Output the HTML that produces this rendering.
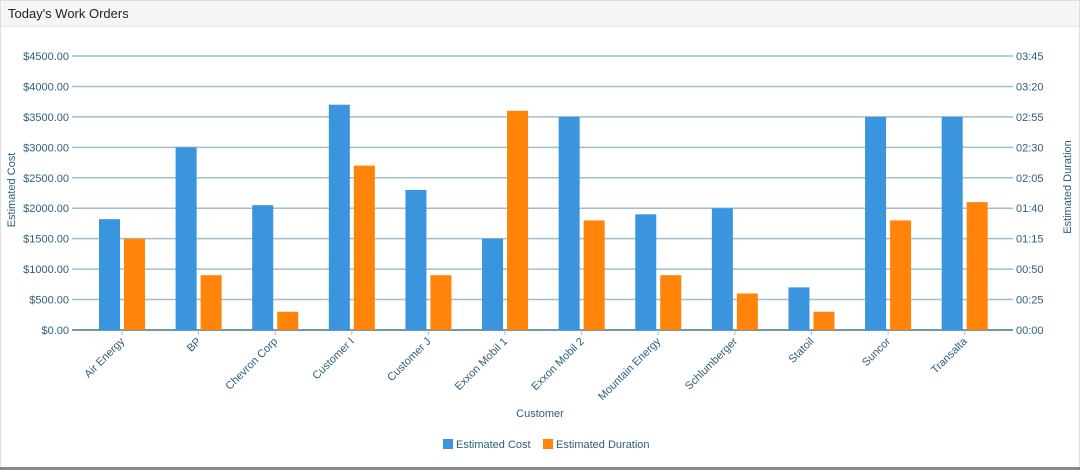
<!DOCTYPE html>
<html><head><meta charset="utf-8">
<style>
body{margin:0;width:1080px;height:470px;background:#f0f0f0;font-family:"Liberation Sans",Arial,sans-serif;overflow:hidden}
.panel{position:absolute;left:0;top:0;width:1078px;height:466px;background:#fff;border:1px solid #ddd}
.hdr{position:absolute;left:0;top:0;width:1078px;height:26px;background:#f5f5f5;border-bottom:1px solid #e6e6e6;font-size:13px;color:#222;line-height:26px;padding-left:7px;box-sizing:border-box}
.bottom{position:absolute;left:0;top:467px;width:1080px;height:3px;background:#888}
svg{position:absolute;left:0;top:0}
text{font-family:"Liberation Sans",Arial,sans-serif;fill:#2e5f7a;font-size:11px}
</style></head><body>
<div class="panel">
<div class="hdr">Today's Work Orders</div>
</div>
<div class="bottom"></div>
<svg id="chart" width="1080" height="470"></svg>
<script>
const categories=["Air Energy","BP","Chevron Corp","Customer I","Customer J","Exxon Mobil 1","Exxon Mobil 2","Mountain Energy","Schlumberger","Statoil","Suncor","Transalta"];
const costValues=[1820,3000,2050,3700,2300,1500,3500,1900,2000,700,3500,3500];
const durationMinutes=[75,45,15,135,45,180,90,45,30,15,90,105];
const costTicks=[0,500,1000,1500,2000,2500,3000,3500,4000,4500];
const durationTicks=[0,25,50,75,100,125,150,175,200,225];

const svg=document.getElementById('chart');
const NS='http://www.w3.org/2000/svg';
const X0=83.7,X1=1003,Y0=330,Y1=56,GL=72,GR=1013;
const band=(X1-X0)/categories.length;
const yCost=v=>Y0-(v/4500)*(Y0-Y1);
const yDur=v=>Y0-(v/225)*(Y0-Y1);
const xC=i=>X0+band*(i+0.5);
function el(t,a,txt){const e=document.createElementNS(NS,t);for(const k in a)e.setAttribute(k,a[k]);if(txt!=null)e.textContent=txt;svg.appendChild(e);return e;}
const fmtCost=v=>'$'+v.toFixed(2);
const fmtDur=m=>String(Math.floor(m/60)).padStart(2,'0')+':'+String(m%60).padStart(2,'0');

costTicks.forEach((v,i)=>{
  const y=yCost(v);
  const g=el('line',{x1:GL,x2:GR,y1:y,y2:y,stroke:v===0?'#6f98ab':'#9fbfcd','stroke-width':v===0?2:1.5});
  
  
  const t=el('text',{x:69,y:y+4,'text-anchor':'end'},fmtCost(v));
  
  
});
durationTicks.forEach(v=>{
  const y=yDur(v);
  const t=el('text',{x:1016,y:y+4,'text-anchor':'start'},fmtDur(v));
  
  
});
categories.forEach((c,i)=>{
  const cx=xC(i);
  const b=el('rect',{x:cx-23,y:yCost(costValues[i]),width:21,height:Y0-yCost(costValues[i]),fill:'#3a94de'});
  
  
  const o=el('rect',{x:cx+2,y:yDur(durationMinutes[i]),width:21,height:Y0-yDur(durationMinutes[i]),fill:'#ff8409'});
  
  
  const tk=el('line',{x1:cx,x2:cx,y1:Y0,y2:Y0+5,stroke:'#9fbfcd'});
  
  
  const t=el('text',{x:cx+3,y:Y0+12,'text-anchor':'end',transform:`rotate(-45 ${cx+3} ${Y0+12})`},c);
  
  
});
const t1=el('text',{x:540,y:417,'text-anchor':'middle'},'Customer');


const t2=el('text',{x:15,y:190,'text-anchor':'middle',transform:'rotate(-90 15 190)'},'Estimated Cost');


const t3=el('text',{x:1071,y:187,'text-anchor':'middle',transform:'rotate(-90 1071 187)'},'Estimated Duration');


const l1=el('rect',{x:443,y:439,width:10,height:10,fill:'#3a94de'});


const l1t=el('text',{x:456,y:448,'font-size':'9'},'Estimated Cost');


const l2=el('rect',{x:543,y:439,width:10,height:10,fill:'#ff8409'});


const l2t=el('text',{x:556,y:448,'font-size':'9'},'Estimated Duration');


</script>
</body></html>
